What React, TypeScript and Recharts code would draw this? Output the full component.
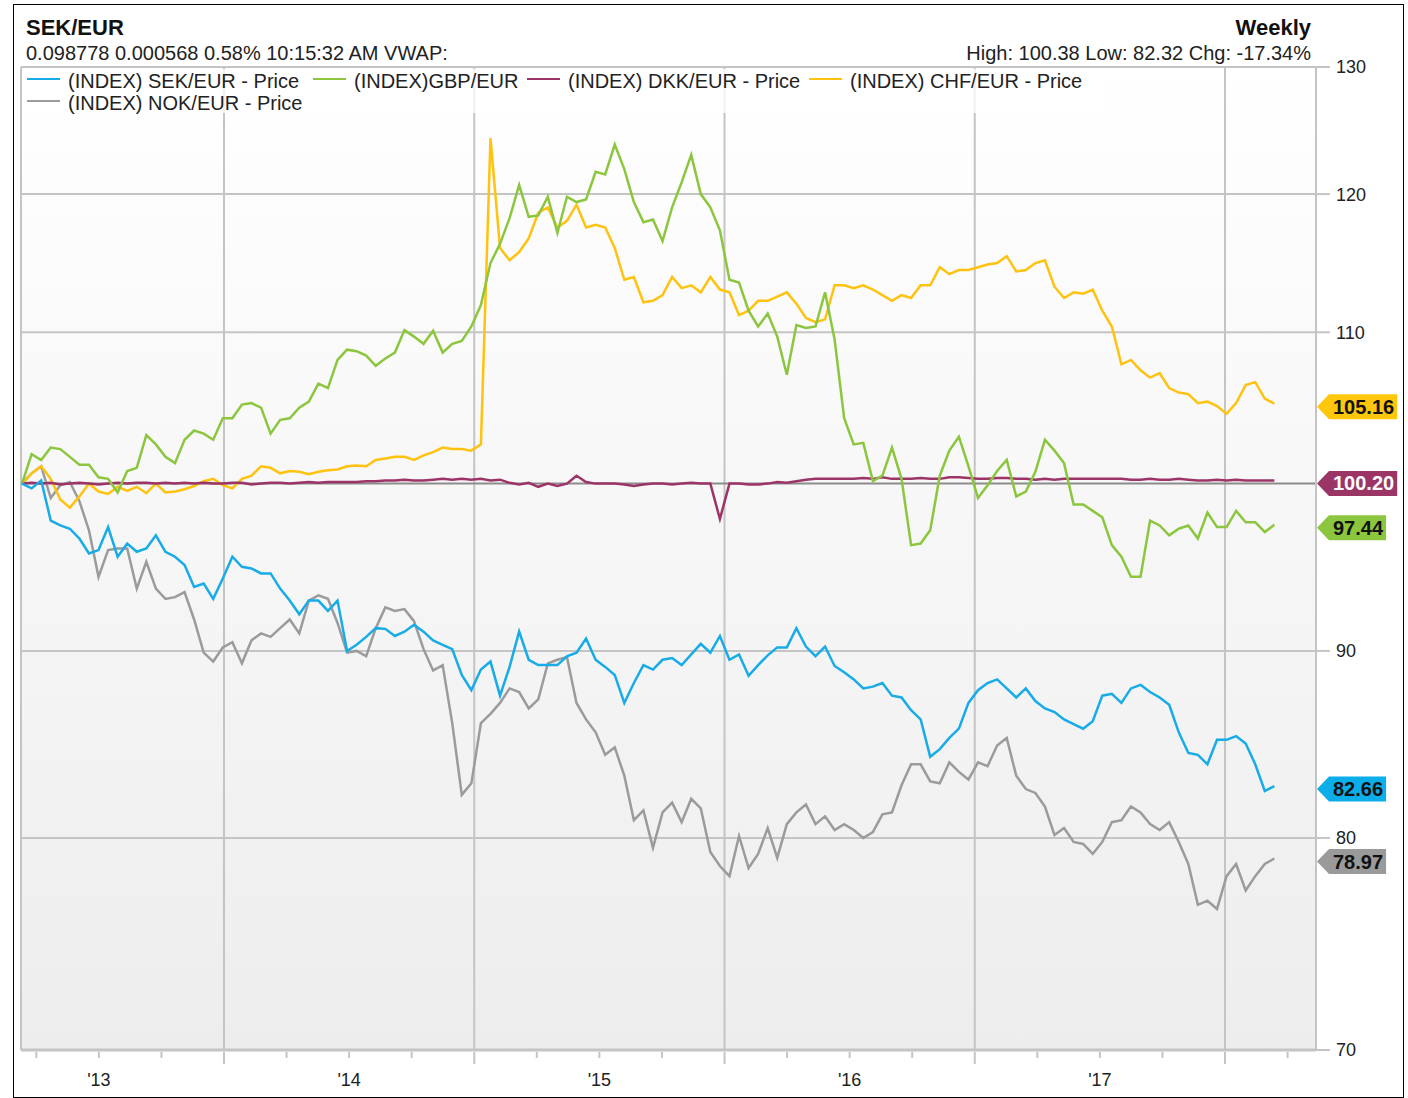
import React from "react";
import {
  CartesianGrid,
  Line,
  LineChart,
  ReferenceDot,
  ReferenceLine,
  XAxis,
  YAxis,
} from "recharts";

const FONT = '"Liberation Sans", Arial, Helvetica, sans-serif';

// two-weekly samples, first one in early March 2013
const startYear = 2013.193;
const stepYears = 0.0382;

const sekEur = [
  100, 99.7, 100.2, 97.7, 97.4, 97.2, 96.6, 95.7, 95.9, 97.3,
  95.5, 96.3, 95.8, 96.0, 96.8, 95.8, 95.5, 95.0, 93.7, 93.9,
  93.0, 94.2, 95.5, 94.9, 94.8, 94.5, 94.5, 93.6, 92.9, 92.1,
  92.9, 92.9, 92.3, 92.9, 90.0, 90.35, 90.8, 91.3, 91.26, 90.85,
  91.1, 91.5, 91.1, 90.6, 90.35, 90.1, 88.65, 87.8, 88.95, 89.4,
  87.5, 89.1, 91.1, 89.5, 89.2, 89.2, 89.2, 89.7, 89.9, 90.7,
  89.5, 89.1, 88.65, 87.1, 88.2, 89.2, 88.95, 89.5, 89.6, 89.2,
  89.8, 90.4, 89.9, 90.85, 89.5, 89.8, 88.6, 89.2, 89.75, 90.2,
  90.2, 91.3, 90.25, 89.7, 90.25, 89.15, 88.8, 88.4, 87.9, 88.0,
  88.2, 87.5, 87.4, 86.7, 86.2, 84.2, 84.6, 85.2, 85.7, 87.1,
  87.8, 88.2, 88.4, 87.9, 87.4, 87.9, 87.2, 86.8, 86.6, 86.2,
  85.95, 85.7, 86.1, 87.5, 87.6, 87.1, 87.9, 88.1, 87.7, 87.4,
  87.0, 85.5, 84.4, 84.3, 83.8, 85.1, 85.1, 85.3, 84.9, 83.8,
  82.4, 82.66,
];

const gbpEur = [
  100, 101.87, 101.5, 102.3, 102.2, 101.7, 101.2, 101.2, 100.4, 100.3,
  99.45, 100.8, 101.0, 103.1, 102.5, 101.7, 101.3, 102.8, 103.4, 103.2,
  102.8, 104.2, 104.2, 105.1, 105.2, 104.9, 103.2, 104.1, 104.2, 104.9,
  105.3, 106.5, 106.2, 108.1, 108.8, 108.7, 108.4, 107.7, 108.2, 108.6,
  110.15, 109.7, 109.2, 110.1, 108.6, 109.2, 109.4, 110.4, 111.9, 114.9,
  116.3, 118.2, 120.7, 118.3, 118.4, 119.8, 117.1, 119.8, 119.4, 119.6,
  121.7, 121.5, 123.8, 121.9, 119.4, 117.9, 118.1, 116.5, 119.0, 120.9,
  123.0, 120.0, 119.0, 117.3, 113.7, 113.5, 111.5, 110.4, 111.3, 109.7,
  107.1, 110.5, 110.3, 110.4, 112.8, 109.5, 104.2, 102.5, 102.6, 100.16,
  100.5, 102.3, 100.3, 96.2, 96.3, 97.1, 100.5, 102.1, 103.0, 101.1,
  99.1, 99.9, 100.8, 101.5, 99.2, 99.5, 100.75, 102.8, 102.1, 101.3,
  98.7, 98.7, 98.3, 97.9, 96.2, 95.5, 94.3, 94.3, 97.7, 97.4,
  96.8, 97.2, 97.4, 96.6, 98.2, 97.3, 97.3, 98.3, 97.6, 97.6,
  97.0, 97.44,
];

const dkkEur = [
  100.0, 100.05, 100.0, 100.05, 99.95, 100.0, 100.05, 100.0, 99.95, 100.0,
  100.05, 100.0, 100.05, 100.05, 100.0, 100.05, 100.0, 100.05, 100.0, 100.05,
  100.0, 100.0, 100.05, 100.05, 99.95, 100.0, 100.05, 100.05, 100.0, 100.05,
  100.1, 100.05, 100.1, 100.1, 100.1, 100.1, 100.15, 100.15, 100.2, 100.2,
  100.25, 100.2, 100.2, 100.25, 100.3, 100.25, 100.3, 100.25, 100.3, 100.2,
  100.25, 100.05, 99.95, 100.05, 99.8, 100.0, 99.85, 100.0, 100.5, 100.1,
  100.0, 100.0, 100.0, 99.95, 99.85, 99.95, 100.0, 100.0, 99.95, 100.0,
  100.05, 100.0, 100.0, 97.8, 100.0, 100.0, 99.95, 99.95, 100.0, 100.1,
  100.05, 100.15, 100.25, 100.3, 100.3, 100.3, 100.3, 100.3, 100.35, 100.3,
  100.4, 100.3, 100.3, 100.3, 100.35, 100.3, 100.3, 100.4, 100.4, 100.35,
  100.3, 100.3, 100.35, 100.35, 100.3, 100.3, 100.25, 100.3, 100.25, 100.3,
  100.3, 100.3, 100.3, 100.3, 100.3, 100.3, 100.25, 100.25, 100.3, 100.25,
  100.25, 100.3, 100.25, 100.2, 100.2, 100.25, 100.2, 100.25, 100.2, 100.2,
  100.2, 100.2,
];

const chfEur = [
  100, 100.65, 101.1, 100.3, 99.0, 98.5, 99.2, 100.0, 99.5, 99.35,
  99.8, 99.55, 99.8, 99.4, 100.0, 99.45, 99.5, 99.65, 99.85, 100.15,
  100.3, 99.9, 99.7, 100.3, 100.5, 101.1, 101.0, 100.65, 100.8, 100.75,
  100.6, 100.75, 100.85, 100.9, 101.1, 101.15, 101.1, 101.5, 101.6, 101.7,
  101.7, 101.5, 101.8, 102.0, 102.3, 102.2, 102.2, 102.1, 102.5, 124.3,
  116.0, 115.1, 115.7, 116.7, 118.6, 119.0, 117.5, 118.0, 119.2, 117.5,
  117.7, 117.5, 116.0, 113.7, 113.9, 112.1, 112.2, 112.6, 113.9, 113.1,
  113.3, 112.8, 113.9, 113.0, 112.8, 111.2, 111.5, 112.2, 112.2, 112.5,
  112.8, 112.0, 111.0, 110.7, 110.9, 113.3, 113.3, 113.1, 113.3, 113.0,
  112.6, 112.2, 112.6, 112.4, 113.3, 113.3, 114.6, 114.1, 114.4, 114.4,
  114.6, 114.8, 114.9, 115.4, 114.3, 114.4, 114.9, 115.1, 113.2, 112.4,
  112.8, 112.7, 113.0, 111.5, 110.4, 107.8, 108.1, 107.4, 106.9, 107.2,
  106.2, 105.9, 105.8, 105.2, 105.3, 105.0, 104.5, 105.2, 106.4, 106.6,
  105.5, 105.16,
];

const nokEur = [
  100, 100.65, 101.1, 99.1, 99.9, 100.1, 98.9, 97.1, 94.3, 95.9,
  96.0, 96.0, 93.6, 95.2, 93.6, 93.0, 93.1, 93.4, 91.8, 89.9,
  89.4, 90.2, 90.5, 89.3, 90.6, 91.0, 90.8, 91.3, 91.8, 91.0,
  92.9, 93.2, 93.0, 91.6, 89.9, 90.0, 89.7, 91.3, 92.5, 92.3,
  92.4, 91.7, 90.1, 88.9, 89.2, 86.0, 82.2, 82.8, 86.0, 86.5,
  87.1, 87.9, 87.7, 86.8, 87.3, 89.3, 89.5, 89.65, 87.1, 86.2,
  85.5, 84.3, 84.7, 83.2, 80.9, 81.4, 79.5, 81.3, 81.8, 80.8,
  82.0, 81.5, 79.3, 78.6, 78.1, 80.1, 78.5, 79.2, 80.5, 79.0,
  80.7, 81.3, 81.7, 80.7, 81.1, 80.4, 80.7, 80.4, 80.0, 80.3,
  81.2, 81.3, 82.7, 83.8, 83.8, 82.9, 82.8, 83.9, 83.4, 83.0,
  83.9, 83.7, 84.8, 85.2, 83.2, 82.5, 82.3, 81.6, 80.15, 80.5,
  79.8, 79.7, 79.2, 79.8, 80.8, 80.9, 81.6, 81.3, 80.7, 80.4,
  80.8, 79.8, 78.7, 76.7, 76.9, 76.5, 78.1, 78.7, 77.4, 78.1,
  78.7, 78.97,
];

const xDomain = [2013.1888, 2018.3636];
const quarterTicks = [
  2013.25, 2013.5, 2013.75, 2014, 2014.25, 2014.5, 2014.75, 2015,
  2015.25, 2015.5, 2015.75, 2016, 2016.25, 2016.5, 2016.75, 2017,
  2017.25, 2017.5, 2017.75, 2018, 2018.25,
];
const yearLines = [2014, 2015, 2016, 2017, 2018];
const labelYears = [2013.5, 2014.5, 2015.5, 2016.5, 2017.5];
const yearLabels = ["'13", "'14", "'15", "'16", "'17"];
const yTicks = [70, 80, 90, 110, 120, 130];

const lastValues = [105.16, 100.2, 97.44, 82.66, 78.97];
const lastLabels = ["105.16", "100.20", "97.44", "82.66", "78.97"];

const data = sekEur.map((sek, i) => ({
  t: startYear + i * stepYears,
  sek,
  gbp: gbpEur[i],
  dkk: dkkEur[i],
  chf: chfEur[i],
  nok: nokEur[i],
}));

const GRID = "#c4c4c4";

// drawn bottom to top
const series = [
  { key: "nok", color: "#9b9b9b" },
  { key: "chf", color: "#ffc20f" },
  { key: "dkk", color: "#9d3468" },
  { key: "gbp", color: "#8cc63e" },
  { key: "sek", color: "#17abe8" },
];

const tags = [
  { fill: "#ffc70b", text: "#111" },
  { fill: "#9b3566", text: "#fff" },
  { fill: "#8cc63e", text: "#111" },
  { fill: "#0caeea", text: "#111" },
  { fill: "#9a9a9a", text: "#111" },
];

const legendItems = [
  { name: "(INDEX) SEK/EUR - Price", color: "#17abe8", x: 27, row: 0 },
  { name: "(INDEX)GBP/EUR", color: "#8cc63e", x: 313, row: 0 },
  { name: "(INDEX) DKK/EUR - Price", color: "#9d3468", x: 527, row: 0 },
  { name: "(INDEX) CHF/EUR - Price", color: "#ffc20f", x: 809, row: 0 },
  { name: "(INDEX) NOK/EUR - Price", color: "#9b9b9b", x: 27, row: 1 },
];

function textWidth(s: string) {
  let w = 0;
  for (const c of s) w += c === "." ? 5.56 : 11.12;
  return w;
}

function PriceTag({ cx, cy, label, fill, textFill }: any) {
  const y = cy + 3;
  const left = cx + 13;
  const w = textWidth(label) + 7;
  const pts = `${cx + 1},${y} ${left},${y - 12.5} ${left + w},${y - 12.5} ${left + w},${y + 12.5} ${left},${y + 12.5}`;
  return (
    <g>
      <polygon points={pts} fill={fill} />
      <text x={left + 4} y={y + 7} fontSize={20} fontWeight="bold" fill={textFill} fontFamily={FONT}>
        {label}
      </text>
    </g>
  );
}

function XTick({ x, y, payload }: any) {
  const v = payload.value;
  const major = Math.abs(v - Math.round(v)) < 1e-6;
  const idx = labelYears.findIndex((l) => Math.abs(l - v) < 1e-6);
  return (
    <g>
      <line x1={x} x2={x} y1={y + 2} y2={y + (major ? 14 : 8)} stroke={GRID} strokeWidth={2} />
      {idx >= 0 && (
        <text x={x} y={y + 36} textAnchor="middle" fontSize={18} fill="#222" fontFamily={FONT}>
          {yearLabels[idx]}
        </text>
      )}
    </g>
  );
}

function YTick({ x, y, payload }: any) {
  return (
    <text x={x} y={y} dy="0.36em" textAnchor="start" fontSize={18} fill="#222" fontFamily={FONT}>
      {payload.value}
    </text>
  );
}

export default function App() {
  return (
    <div
      style={{
        position: "absolute",
        left: 0,
        top: 0,
        width: 1408,
        height: 1098,
        background: "#fff",
        fontFamily: FONT,
      }}
    >
      <LineChart width={1408} height={1098} data={data} margin={{ top: 67, right: 0, bottom: 0, left: 21 }}>
        <defs>
          <linearGradient id="plotBg" x1="0" y1="0" x2="0" y2="1">
            <stop offset="0%" stopColor="#ffffff" />
            <stop offset="100%" stopColor="#ededed" />
          </linearGradient>
        </defs>
        <CartesianGrid vertical={false} stroke={GRID} strokeWidth={2} fill="url(#plotBg)" />
        <XAxis
          dataKey="t"
          type="number"
          domain={xDomain}
          allowDataOverflow
          ticks={quarterTicks}
          interval={0}
          tickSize={0}
          tickMargin={0}
          height={48}
          axisLine={{ stroke: GRID, strokeWidth: 3 }}
          tickLine={false}
          tick={(p: any) => <XTick {...p} />}
        />
        <YAxis
          orientation="right"
          scale="log"
          domain={[70, 130]}
          allowDataOverflow
          ticks={yTicks}
          interval={0}
          width={92}
          tickSize={14}
          tickMargin={6}
          axisLine={{ stroke: GRID, strokeWidth: 2 }}
          tickLine={{ stroke: GRID, strokeWidth: 2 }}
          tick={(p: any) => <YTick {...p} />}
        />
        <ReferenceLine x={xDomain[0]} stroke={GRID} strokeWidth={2} />
        {yearLines.map((yr) => (
          <ReferenceLine key={yr} x={yr} stroke={GRID} strokeWidth={2} />
        ))}
        <ReferenceLine y={100} stroke="#8c8c8c" strokeWidth={2} />
        {series.map((s) => (
          <Line
            key={s.key}
            dataKey={s.key}
            type="linear"
            stroke={s.color}
            strokeWidth={2.5}
            dot={false}
            activeDot={false}
            isAnimationActive={false}
          />
        ))}
        {lastValues.map((v, i) => (
          <ReferenceDot
            key={lastLabels[i]}
            x={xDomain[1]}
            y={v}
            r={1}
            ifOverflow="visible"
            shape={(p: any) => (
              <PriceTag cx={p.cx} cy={p.cy} label={lastLabels[i]} fill={tags[i].fill} textFill={tags[i].text} />
            )}
          />
        ))}
      </LineChart>
      <svg
        width={1408}
        height={1098}
        style={{ position: "absolute", left: 0, top: 0, pointerEvents: "none" }}
      >
        <rect x={13.5} y={4.5} width={1390} height={1093} fill="none" stroke="#000" />
        <text x={26} y={35} fontSize={22} fontWeight="bold" fill="#111" fontFamily={FONT}>
          SEK/EUR
        </text>
        <text x={26} y={60} fontSize={20} fill="#222" fontFamily={FONT}>
          0.098778 0.000568 0.58% 10:15:32 AM VWAP:
        </text>
        <text x={1311} y={35} fontSize={22} fontWeight="bold" fill="#111" textAnchor="end" fontFamily={FONT}>
          Weekly
        </text>
        <text x={1311} y={60} fontSize={20} fill="#222" textAnchor="end" fontFamily={FONT}>
          High: 100.38 Low: 82.32 Chg: -17.34%
        </text>
        <rect x={22} y={69} width={1080} height={44} fill="rgba(255,255,255,0.75)" />
        {legendItems.map((it) => {
          const base = it.row === 0 ? 88 : 110;
          return (
            <g key={it.name}>
              <line x1={it.x} x2={it.x + 33} y1={base - 9} y2={base - 9} stroke={it.color} strokeWidth={2} />
              <text x={it.x + 41} y={base} fontSize={20} fill="#222" fontFamily={FONT}>
                {it.name}
              </text>
            </g>
          );
        })}
      </svg>
    </div>
  );
}
